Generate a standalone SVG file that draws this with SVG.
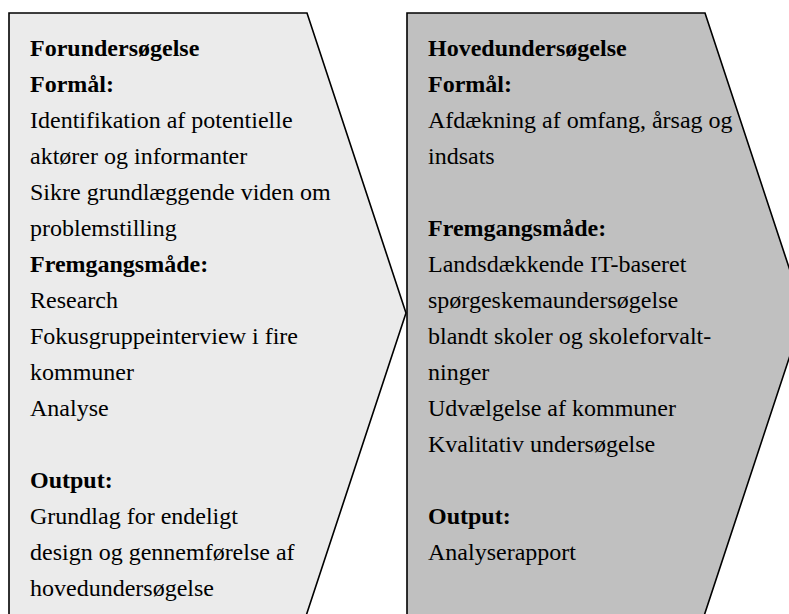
<svg xmlns="http://www.w3.org/2000/svg" width="789" height="614" viewBox="0 0 789 614">
<style>
.shape{stroke:#000;stroke-width:1.6;stroke-linejoin:miter}
.t{font-family:"Liberation Serif","Times New Roman",serif;font-size:24px;fill:#000}
.b{font-weight:bold}
</style>
<rect width="789" height="614" fill="#fff"/>
<g id="forundersogelse">
<polygon class="shape" fill="#ebebeb" points="9,13 307,13 406,313 306,616 9,616"/>
<text class="t b" x="30" y="56">Forundersøgelse</text>
<text class="t b" x="30" y="92">Formål:</text>
<text class="t" x="30" y="128">Identifikation af potentielle</text>
<text class="t" x="30" y="164">aktører og informanter</text>
<text class="t" x="30" y="200">Sikre grundlæggende viden om</text>
<text class="t" x="30" y="236">problemstilling</text>
<text class="t b" x="30" y="272">Fremgangsmåde:</text>
<text class="t" x="30" y="308">Research</text>
<text class="t" x="30" y="344">Fokusgruppeinterview i fire</text>
<text class="t" x="30" y="380">kommuner</text>
<text class="t" x="30" y="416">Analyse</text>
<text class="t b" x="30" y="488">Output:</text>
<text class="t" x="30" y="524">Grundlag for endeligt</text>
<text class="t" x="30" y="560">design og gennemførelse af</text>
<text class="t" x="30" y="596">hovedundersøgelse</text>
</g>
<g id="hovedundersogelse">
<polygon class="shape" fill="#c0c0c0" points="407,13 705,13 804,313 704,616 407,616"/>
<text class="t b" x="428" y="56">Hovedundersøgelse</text>
<text class="t b" x="428" y="92">Formål:</text>
<text class="t" x="428" y="128">Afdækning af omfang, årsag og</text>
<text class="t" x="428" y="164">indsats</text>
<text class="t b" x="428" y="236">Fremgangsmåde:</text>
<text class="t" x="428" y="272">Landsdækkende IT-baseret</text>
<text class="t" x="428" y="308">spørgeskemaundersøgelse</text>
<text class="t" x="428" y="344">blandt skoler og skoleforvalt-</text>
<text class="t" x="428" y="380">ninger</text>
<text class="t" x="428" y="416">Udvælgelse af kommuner</text>
<text class="t" x="428" y="452">Kvalitativ undersøgelse</text>
<text class="t b" x="428" y="524">Output:</text>
<text class="t" x="428" y="560">Analyserapport</text>
</g>
</svg>
